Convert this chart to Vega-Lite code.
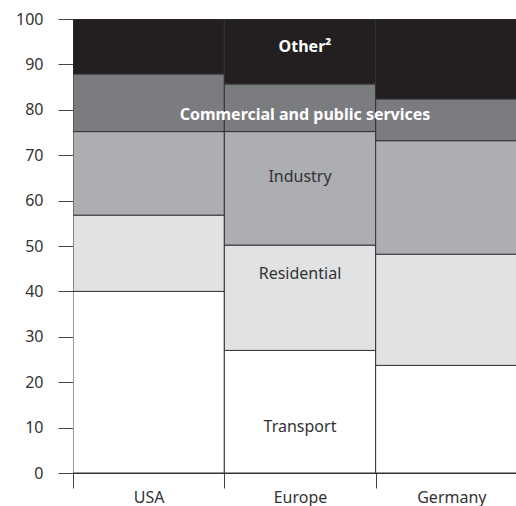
{
  "$schema": "https://vega.github.io/schema/vega-lite/v6.json",
  "width": 443,
  "height": 454,
  "autosize": {"type": "none"},
  "padding": {"left": 73, "top": 19, "right": 0, "bottom": 33},
  "background": "white",
  "config": {
    "view": {"stroke": null},
    "font": "Noto Sans",
    "axis": {"labelFont": "Noto Sans", "labelFontSize": 16, "labelColor": "#333333", "tickColor": "#444444", "domainColor": "#333333", "grid": false, "title": null}
  },
  "datasets": {
    "bars": [
      {"country": "USA", "sector": "Transport", "order": 1, "value": 40.0},
      {"country": "USA", "sector": "Residential", "order": 2, "value": 16.8},
      {"country": "USA", "sector": "Industry", "order": 3, "value": 18.4},
      {"country": "USA", "sector": "Commercial and public services", "order": 4, "value": 12.7},
      {"country": "USA", "sector": "Other", "order": 5, "value": 12.1},
      {"country": "Europe", "sector": "Transport", "order": 1, "value": 27.0},
      {"country": "Europe", "sector": "Residential", "order": 2, "value": 23.2},
      {"country": "Europe", "sector": "Industry", "order": 3, "value": 25.0},
      {"country": "Europe", "sector": "Commercial and public services", "order": 4, "value": 10.5},
      {"country": "Europe", "sector": "Other", "order": 5, "value": 14.3},
      {"country": "Germany", "sector": "Transport", "order": 1, "value": 23.7},
      {"country": "Germany", "sector": "Residential", "order": 2, "value": 24.5},
      {"country": "Germany", "sector": "Industry", "order": 3, "value": 25.0},
      {"country": "Germany", "sector": "Commercial and public services", "order": 4, "value": 9.2},
      {"country": "Germany", "sector": "Other", "order": 5, "value": 17.6}
    ],
    "darkLabels": [
      {"country": "Europe", "label": "Industry", "pos": 65.2},
      {"country": "Europe", "label": "Residential", "pos": 43.9},
      {"country": "Europe", "label": "Transport", "pos": 10.1}
    ],
    "lightLabels": [
      {"country": "Europe", "label": "Other²", "pos": 93.9},
      {"country": "Europe", "label": "Commercial and public services", "pos": 78.8}
    ]
  },
  "layer": [
    {
      "data": {"name": "bars"},
      "mark": {"type": "bar", "stroke": "#333333", "strokeWidth": 1, "clip": true},
      "encoding": {
        "x": {
          "field": "country", "type": "nominal", "sort": ["USA", "Europe", "Germany"],
          "scale": {"range": [0, 454], "paddingInner": 0, "paddingOuter": 0},
          "axis": {"tickBand": "extent", "tickSize": 15, "labelPadding": 1, "domain": true, "labelAngle": 0}
        },
        "y": {
          "field": "value", "type": "quantitative", "stack": "zero",
          "scale": {"domain": [0, 100], "nice": false},
          "axis": {"values": [0, 10, 20, 30, 40, 50, 60, 70, 80, 90, 100], "tickSize": 15, "labelPadding": 15, "domain": false}
        },
        "order": {"field": "order", "type": "quantitative"},
        "color": {
          "field": "sector", "type": "nominal", "legend": null,
          "scale": {
            "domain": ["Transport", "Residential", "Industry", "Commercial and public services", "Other"],
            "range": ["#ffffff", "#e1e2e4", "#adaeb1", "#7b7c80", "#231f20"]
          }
        }
      }
    },
    {
      "data": {"name": "darkLabels"},
      "mark": {"type": "text", "fontSize": 16, "color": "#333333", "baseline": "middle", "align": "center"},
      "encoding": {
        "x": {"field": "country", "type": "nominal", "sort": ["USA", "Europe", "Germany"]},
        "y": {"field": "pos", "type": "quantitative"},
        "text": {"field": "label"}
      }
    },
    {
      "data": {"name": "lightLabels"},
      "mark": {"type": "text", "fontSize": 16, "fontWeight": "bold", "color": "#ffffff", "baseline": "middle", "align": "center", "dx": 5},
      "encoding": {
        "x": {"field": "country", "type": "nominal", "sort": ["USA", "Europe", "Germany"]},
        "y": {"field": "pos", "type": "quantitative"},
        "text": {"field": "label"}
      }
    }
  ]
}
